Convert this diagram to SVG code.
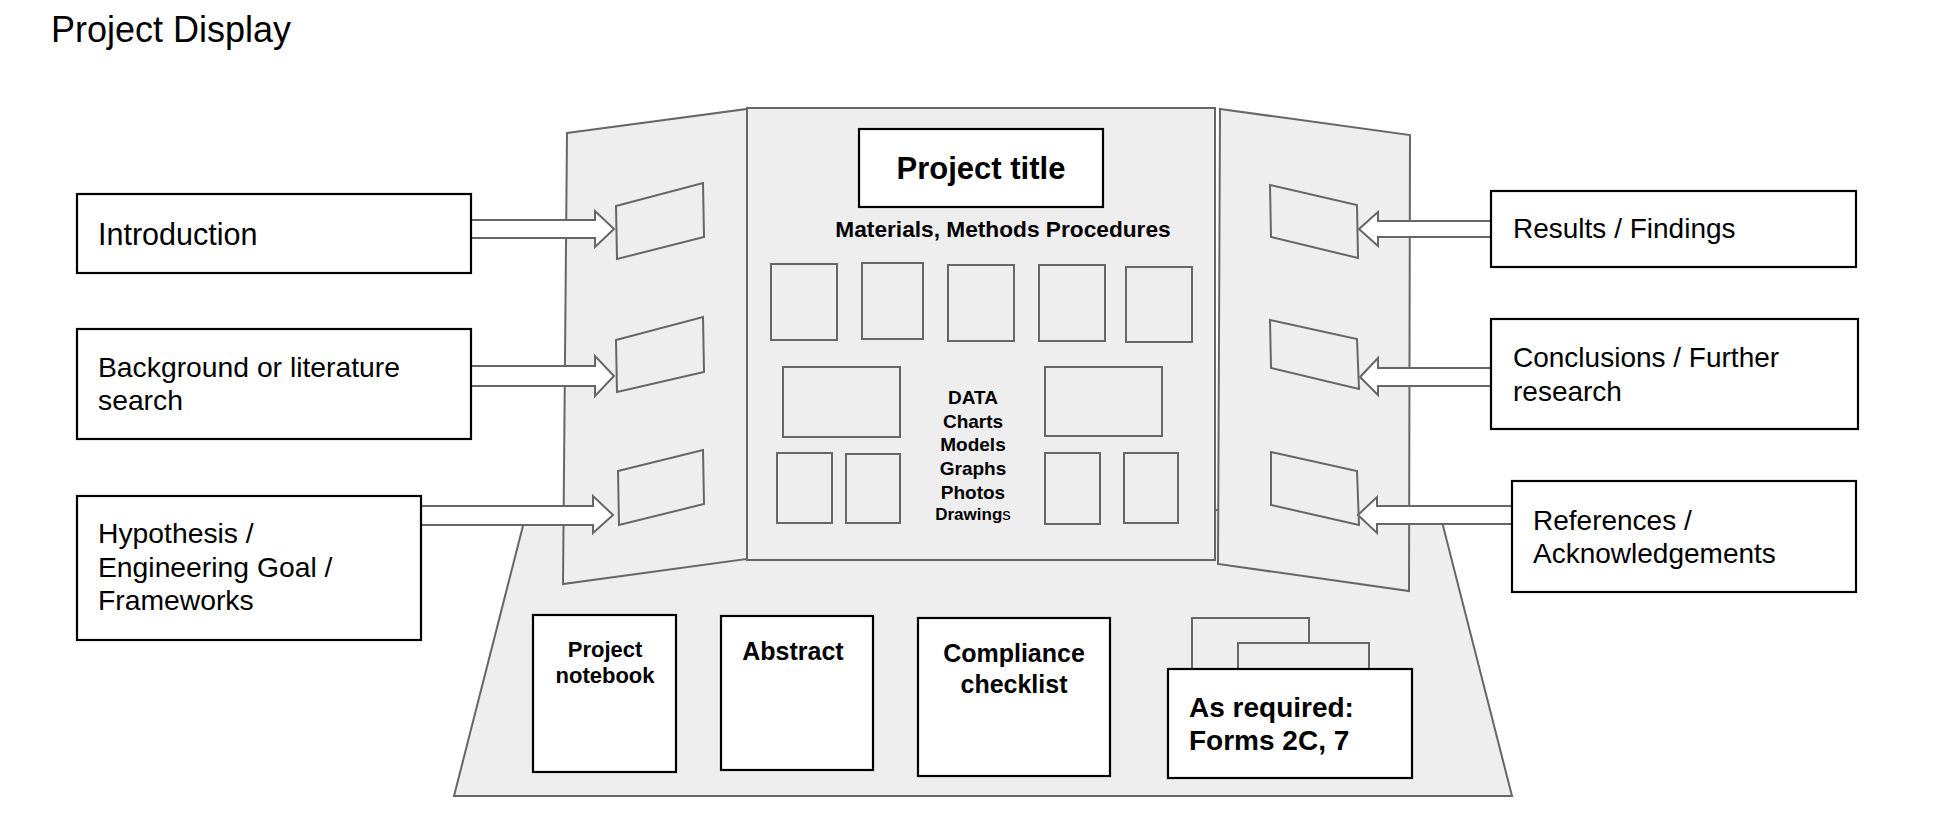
<svg xmlns="http://www.w3.org/2000/svg" width="1945" height="813" viewBox="0 0 1945 813">
<style>
  .t { font-family: "Liberation Sans", Arial, sans-serif; fill: #000; }
  .b { font-weight: bold; }
  .box { fill: #fff; stroke: #000; stroke-width: 2.2; }
  .panel { fill: #eeeeee; stroke: #666; stroke-width: 2; stroke-linejoin: miter; }
  .slot { fill: none; stroke: #666; stroke-width: 2; }
  .arrow { fill: #fff; stroke: #666; stroke-width: 2; stroke-linejoin: miter; }
  .tab { fill: #eeeeee; stroke: #666; stroke-width: 2; }
</style>
<rect width="1945" height="813" fill="#fff"/>
<text class="t" x="51" y="42" font-size="36">Project Display</text>

<g id="board">
  <polygon id="base" class="panel" points="454,796 1512,796 1439,510 527,510"/>
  <polygon id="left-panel" class="panel" points="567,133 747,109 747,559 563,584"/>
  <rect id="center-panel" class="panel" x="747" y="108" width="468" height="452"/>
  <polygon id="right-panel" class="panel" points="1220,109 1410,135 1409,591 1218,564"/>

  <g id="left-slots">
    <polygon class="slot" points="616,206 703,183 704,237 617,259"/>
    <polygon class="slot" points="616,340 703,317 704,372 617,392"/>
    <polygon class="slot" points="618,471 703,450 704,504 619,525"/>
  </g>
  <g id="right-slots">
    <polygon class="slot" points="1270,185 1357,205 1358,258 1271,237"/>
    <polygon class="slot" points="1270,320 1357,339 1359,389 1271,368"/>
    <polygon class="slot" points="1271,452 1357,471 1359,525 1271,505"/>
  </g>

  <g id="project-title">
    <rect class="box" x="859" y="129" width="244" height="78"/>
    <text class="t b" x="981" y="179" font-size="31" text-anchor="middle">Project title</text>
  </g>
  <text class="t b" x="1003" y="237" font-size="22.7" text-anchor="middle">Materials, Methods Procedures</text>

  <g id="grid">
    <rect class="slot" x="771" y="264" width="66" height="76"/>
    <rect class="slot" x="862" y="263" width="61" height="76"/>
    <rect class="slot" x="948" y="265" width="66" height="76"/>
    <rect class="slot" x="1039" y="265" width="66" height="76"/>
    <rect class="slot" x="1126" y="267" width="66" height="75"/>
    <rect class="slot" x="783" y="367" width="117" height="70"/>
    <rect class="slot" x="1045" y="367" width="117" height="69"/>
    <rect class="slot" x="777" y="453" width="55" height="70"/>
    <rect class="slot" x="846" y="454" width="54" height="69"/>
    <rect class="slot" x="1045" y="453" width="55" height="71"/>
    <rect class="slot" x="1124" y="453" width="54" height="70"/>
  </g>
  <g id="data-label" class="t b" text-anchor="middle">
    <text x="973" y="404" font-size="19">DATA</text>
    <text x="973" y="428" font-size="19">Charts</text>
    <text x="973" y="451" font-size="19">Models</text>
    <text x="973" y="475" font-size="19">Graphs</text>
    <text x="973" y="499" font-size="19">Photos</text>
    <text x="973" y="520" font-size="17">Drawing<tspan font-weight="normal">s</tspan></text>
  </g>

  <g id="project-notebook">
    <rect class="box" x="533" y="615" width="143" height="157"/>
    <text class="t b" x="605" y="657" font-size="22" text-anchor="middle">Project</text>
    <text class="t b" x="605" y="683" font-size="22" text-anchor="middle">notebook</text>
  </g>
  <g id="abstract">
    <rect class="box" x="721" y="616" width="152" height="154"/>
    <text class="t b" x="793" y="660" font-size="25" text-anchor="middle">Abstract</text>
  </g>
  <g id="compliance">
    <rect class="box" x="918" y="618" width="192" height="158"/>
    <text class="t b" x="1014" y="662" font-size="25" text-anchor="middle">Compliance</text>
    <text class="t b" x="1014" y="693" font-size="25" text-anchor="middle">checklist</text>
  </g>
  <g id="forms">
    <rect class="tab" x="1192" y="618" width="117" height="60"/>
    <rect class="tab" x="1238" y="643" width="131" height="35"/>
    <rect class="box" x="1168" y="669" width="244" height="109"/>
    <text class="t b" x="1189" y="717" font-size="28">As required:</text>
    <text class="t b" x="1189" y="750" font-size="28">Forms 2C, 7</text>
  </g>
</g>

<g id="connectors">
  <polygon class="arrow" points="471,220 595,220 595,211 614,229 595,247 595,238 471,238"/>
  <polygon class="arrow" points="471,366 595,366 595,356 614,376 595,396 595,386 471,386"/>
  <polygon class="arrow" points="421,506 593,506 593,496 613,515 593,533 593,525 421,525"/>
  <polygon class="arrow" points="1491,221 1378,221 1378,212 1359,229 1378,246 1378,237 1491,237"/>
  <polygon class="arrow" points="1491,368 1378,368 1378,358 1360,377 1378,395 1378,386 1491,386"/>
  <polygon class="arrow" points="1512,506 1377,506 1377,497 1358,515 1377,533 1377,524 1512,524"/>
</g>

<g id="introduction">
  <rect class="box" x="77" y="194" width="394" height="79"/>
  <text class="t" x="98" y="245" font-size="30.5">Introduction</text>
</g>
<g id="background">
  <rect class="box" x="77" y="329" width="394" height="110"/>
  <text class="t" x="98" y="377" font-size="28.3">Background or literature</text>
  <text class="t" x="98" y="410" font-size="28.3">search</text>
</g>
<g id="hypothesis">
  <rect class="box" x="77" y="496" width="344" height="144"/>
  <text class="t" x="98" y="543" font-size="28.3">Hypothesis /</text>
  <text class="t" x="98" y="577" font-size="28.3">Engineering Goal /</text>
  <text class="t" x="98" y="610" font-size="28.3">Frameworks</text>
</g>
<g id="results">
  <rect class="box" x="1491" y="191" width="365" height="76"/>
  <text class="t" x="1513" y="238" font-size="28">Results / Findings</text>
</g>
<g id="conclusions">
  <rect class="box" x="1491" y="319" width="367" height="110"/>
  <text class="t" x="1513" y="367" font-size="28">Conclusions / Further</text>
  <text class="t" x="1513" y="401" font-size="28">research</text>
</g>
<g id="references">
  <rect class="box" x="1512" y="481" width="344" height="111"/>
  <text class="t" x="1533" y="530" font-size="28">References /</text>
  <text class="t" x="1533" y="563" font-size="28">Acknowledgements</text>
</g>
</svg>
